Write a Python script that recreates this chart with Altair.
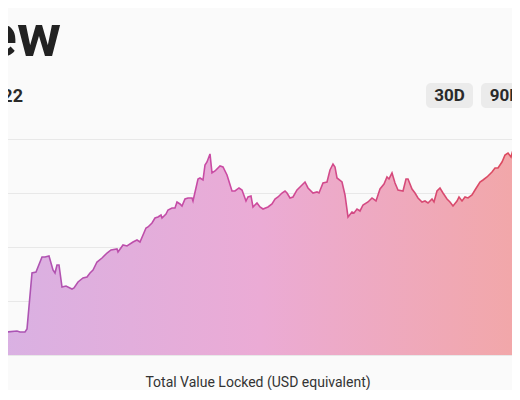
import altair as alt
import pandas as pd

# Day index (visible window) and Total Value Locked
days = [0, 5, 7, 17, 20, 25, 27, 32, 36, 42, 45, 49, 53, 55, 57, 59, 62, 66, 72, 74,
        78, 83, 87, 90, 93, 97, 102, 107, 111, 117, 118, 123, 127, 133, 137, 140, 146, 148, 152, 155,
        158, 161, 162, 166, 168, 172, 175, 177, 180, 182, 185, 188, 192, 193, 198, 200, 203, 205, 207, 210,
        212, 215, 220, 223, 227, 232, 235, 239, 242, 246, 248, 251, 253, 257, 260, 263, 268, 272, 275, 278,
        282, 285, 287, 290, 293, 297, 300, 305, 308, 313, 317, 319, 323, 327, 330, 333, 335, 337, 342, 345,
        348, 352, 354, 357, 360, 363, 368, 372, 376, 380, 384, 387, 389, 392, 395, 398, 403, 406, 408, 412,
        415, 418, 422, 425, 428, 432, 434, 437, 440, 443, 447, 450, 453, 457, 459, 462, 465, 468, 472, 475,
        480, 483, 487, 492, 495, 498, 502, 505, 508, 511, 513, 517, 520]
tvl = [38.9, 38.9, 42.6, 44.4, 42.6, 42.6, 48.2, 151.9, 153.7, 181.5, 181.5, 183.3, 157.4, 151.9, 166.7, 166.7, 125.9, 127.8, 122.2, 124.1,
       135.2, 142.6, 144.5, 151.9, 157.4, 172.2, 179.6, 188.9, 194.5, 196.3, 190.8, 203.7, 201.9, 209.3, 213.0, 209.3, 235.2, 237.1, 244.5, 253.7,
       255.6, 259.3, 253.7, 261.1, 268.5, 272.2, 272.2, 283.4, 279.7, 275.9, 288.9, 290.8, 290.8, 285.2, 326.0, 327.8, 324.1, 351.9, 357.4, 372.3,
       337.1, 340.8, 350.0, 348.2, 333.4, 303.7, 303.7, 309.3, 305.6, 285.2, 292.6, 294.5, 274.1, 281.5, 274.1, 270.4, 274.1, 279.7, 288.9, 292.6,
       300.0, 303.7, 300.0, 290.8, 292.6, 305.6, 311.1, 320.4, 309.3, 300.0, 301.9, 300.0, 318.5, 320.4, 342.6, 353.7, 348.2, 327.8, 320.4, 296.3,
       255.6, 264.8, 263.0, 270.4, 266.7, 277.8, 283.4, 290.8, 285.2, 307.4, 316.7, 329.7, 326.0, 337.1, 318.5, 305.6, 303.7, 326.0, 326.0, 307.4,
       300.0, 290.8, 283.4, 285.2, 281.5, 288.9, 283.4, 303.7, 309.3, 300.0, 288.9, 283.4, 275.9, 285.2, 292.6, 285.2, 292.6, 290.8, 296.3, 305.6,
       320.4, 324.1, 329.7, 338.9, 346.3, 346.3, 357.4, 370.4, 374.1, 366.7, 379.7, 377.8, 379.7]
grid_values = [0, 100, 200, 300, 400]

title_text = ["Overview"]
period_text = ["Since 2022"]
button_labels = ["30D", "90D"]
caption = ["Total Value Locked (USD equivalent)"]

df = pd.DataFrame({"day": days, "tvl": tvl})

FONT = "Roboto"

fill_grad = alt.LinearGradient(
    gradient="linear", x1=0, x2=1, y1=0, y2=0,
    stops=[alt.GradientStop(color="#d9b1e3", offset=0),
           alt.GradientStop(color="#ebabd5", offset=0.5),
           alt.GradientStop(color="#f2a7a8", offset=1)])
line_grad = alt.LinearGradient(
    gradient="linear", x1=0, x2=1, y1=0, y2=0,
    stops=[alt.GradientStop(color="#a955b5", offset=0),
           alt.GradientStop(color="#cc4aa2", offset=0.45),
           alt.GradientStop(color="#dd4a5c", offset=1)])

xscale = alt.Scale(domain=[0, 520], range=[0, 520], nice=False, zero=False)
yscale = alt.Scale(domain=[0, 400], range=[355, 139], nice=False)

xs = alt.X("day:Q", axis=None, scale=xscale)
ys = alt.Y("tvl:Q", scale=yscale,
           axis=alt.Axis(values=grid_values, labels=False, ticks=False, domain=False,
                         title=None, grid=True, gridColor="#e8e8e8", gridWidth=1))

area = alt.Chart(df).mark_area(color=fill_grad, interpolate="linear").encode(x=xs, y=ys)
line = alt.Chart(df).mark_line(stroke=line_grad, strokeWidth=1.6, interpolate="linear").encode(
    x=alt.X("day:Q", axis=None, scale=xscale),
    y=alt.Y("tvl:Q", scale=yscale))

title = alt.Chart(pd.DataFrame({"t": title_text})).mark_text(
    font=FONT, fontSize=60, fontWeight="bold", color="#222222", align="right", baseline="alphabetic"
).encode(text="t:N", x=alt.value(61), y=alt.value(56))

period = alt.Chart(pd.DataFrame({"t": period_text})).mark_text(
    font=FONT, fontSize=18, fontWeight="bold", color="#2a2a2a", align="right", baseline="alphabetic"
).encode(text="t:N", x=alt.value(23), y=alt.value(102))

btn_df = pd.DataFrame({"label": button_labels, "x0": [426, 481], "x1": [473, 545], "cx": [449.5, 505]})
buttons = alt.Chart(btn_df).mark_rect(color="#ebebeb", cornerRadius=5).encode(
    x=alt.X("x0:Q", scale=None), x2="x1:Q", y=alt.value(83), y2=alt.value(108))
btn_text = alt.Chart(btn_df).mark_text(
    font=FONT, fontSize=17, fontWeight="bold", color="#2a2a2a", align="center", baseline="middle"
).encode(text="label:N", x=alt.X("cx:Q", scale=None), y=alt.value(96))

cap = alt.Chart(pd.DataFrame({"t": caption})).mark_text(
    font=FONT, fontSize=14, color="#333333", align="center", baseline="alphabetic"
).encode(text="t:N", x=alt.value(258), y=alt.value(387))

chart = alt.layer(area, line, title, period, buttons, btn_text, cap).properties(
    width=512, height=390,
    background="#fafafa",
    padding={"left": -8, "top": -8, "right": 0, "bottom": 0},
    autosize=alt.AutoSizeParams(type="none"),
).configure_view(stroke=None).resolve_scale(x="independent")

chart.save("out.html", embed_options={"renderer": "svg", "actions": False})
